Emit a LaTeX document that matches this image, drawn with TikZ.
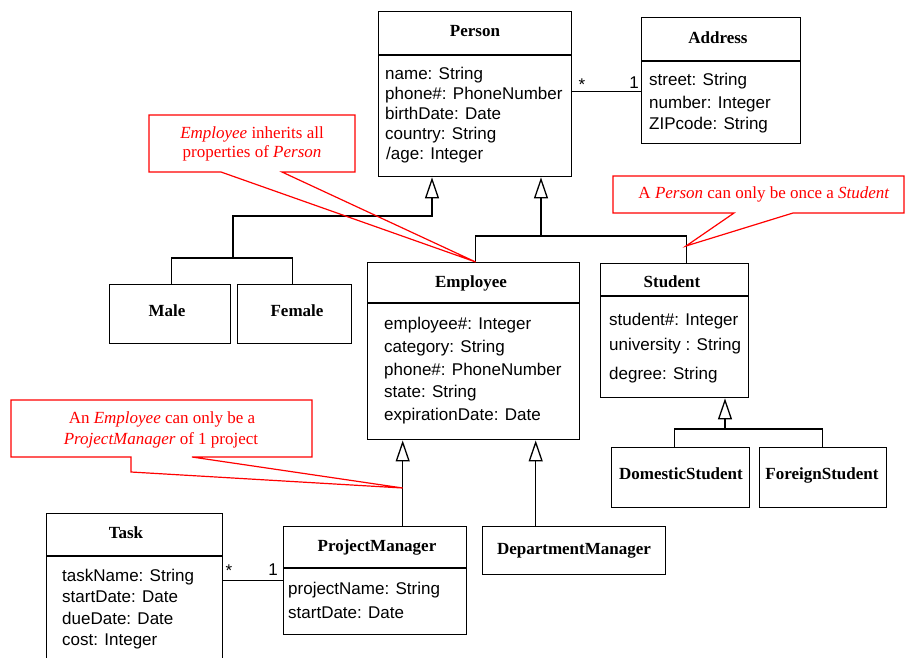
\documentclass[tikz,border=0pt]{standalone}
\usepackage{fontspec}
\setmainfont{Liberation Serif}
\setsansfont{Liberation Sans}
\usetikzlibrary{arrows.meta}
\tikzset{
  classbox/.style={draw, line width=1.4pt, inner sep=0pt, anchor=north west},
  boxline/.style={line width=1.4pt},
  title/.style={font=\fontsize{17}{20}\selectfont\bfseries, anchor=base, inner sep=0pt},
  attr/.style={font=\sffamily\fontsize{17}{20}\selectfont, anchor=base west, inner sep=0pt},
  mult/.style={font=\sffamily\fontsize{17}{20}\selectfont, anchor=base, inner sep=0pt},
  note/.style={font=\fontsize{17}{20}\selectfont, text=red, anchor=base, inner sep=0pt},
  conn/.style={line width=1.3pt},
  gen/.style={conn, -{Triangle[open, width=14pt, length=21pt]}},
  callout/.style={draw=red, line width=1.2pt, line join=miter},
}
\begin{document}
\begin{tikzpicture}[x=1pt, y=-1pt]
\path[use as bounding box, clip] (0,0) rectangle (905,657);
\fill[white] (0,0) rectangle (905,657);

% ---------- class boxes ----------
\node[classbox, minimum width=193pt, minimum height=165pt] (person) at (378,11) {};
\draw[boxline] (person.north west) ++(0,44) -- ++(193,0);
\node[title] (personT) at (475,36.5) {Person};
\node[attr] (pa1) at (385,79) {name: String};
\node[attr] (pa2) at (385,99.5) {phone\#: PhoneNumber};
\node[attr] (pa3) at (385,119.5) {birthDate: Date};
\node[attr] (pa4) at (385,139.5) {country: String};
\node[attr] (pa5) at (386,159.5) {/age: Integer};

\node[classbox, minimum width=159pt, minimum height=126pt] (address) at (641,17) {};
\draw[boxline] (address.north west) ++(0,44) -- ++(159,0);
\node[title] (addressT) at (718,43) {Address};
\node[attr] (aa1) at (649,85) {street: String};
\node[attr] (aa2) at (649,108) {number: Integer};
\node[attr] (aa3) at (649,129.5) {ZIPcode: String};

\node[classbox, minimum width=121pt, minimum height=59pt] (male) at (109,284) {};
\node[title] (maleT) at (167,316) {Male};
\node[classbox, minimum width=114pt, minimum height=59pt] (female) at (237,284) {};
\node[title] (femaleT) at (297,316) {Female};

\node[classbox, minimum width=212pt, minimum height=177pt] (employee) at (367,262) {};
\draw[boxline] (employee.north west) ++(0,41) -- ++(212,0);
\node[title] (employeeT) at (471,287.5) {Employee};
\node[attr] (ea1) at (384,329) {employee\#: Integer};
\node[attr] (ea2) at (384,352) {category: String};
\node[attr] (ea3) at (384,375) {phone\#: PhoneNumber};
\node[attr] (ea4) at (384,397) {state: String};
\node[attr] (ea5) at (384,420) {expirationDate: Date};

\node[classbox, minimum width=148pt, minimum height=134pt] (student) at (600,263) {};
\draw[boxline] (student.north west) ++(0,33) -- ++(148,0);
\node[title] (studentT) at (672,287) {Student};
\node[attr] (sa1) at (609,325) {student\#: Integer};
\node[attr] (sa2) at (609,350.5) {university : String};
\node[attr] (sa3) at (609,379) {degree: String};

\node[classbox, minimum width=138pt, minimum height=60pt] (dom) at (611,447) {};
\node[title] (domT) at (681,479) {DomesticStudent};
\node[classbox, minimum width=127pt, minimum height=60pt] (for) at (759,447) {};
\node[title] (forT) at (822,479) {ForeignStudent};

\node[classbox, minimum width=183pt, minimum height=48pt] (dm) at (482,526) {};
\node[title] (dmT) at (574,554) {DepartmentManager};

\node[classbox, minimum width=183pt, minimum height=108pt] (pm) at (283,526) {};
\draw[boxline] (pm.north west) ++(0,42) -- ++(183,0);
\node[title] (pmT) at (377,551) {ProjectManager};
\node[attr] (pma1) at (288,594) {projectName: String};
\node[attr] (pma2) at (288,618) {startDate: Date};

\node[classbox, minimum width=176pt, minimum height=200pt] (task) at (46,513) {};
\draw[boxline] (task.north west) ++(0,43) -- ++(176,0);
\node[title] (taskT) at (126,538.5) {Task};
\node[attr] (ta1) at (62,581) {taskName: String};
\node[attr] (ta2) at (62,602) {startDate: Date};
\node[attr] (ta3) at (62,624) {dueDate: Date};
\node[attr] (ta4) at (62,645.5) {cost: Integer};

% ---------- generalizations ----------
\coordinate (g1) at (432,216);
\coordinate (g1b) at (233,258);
\draw[conn] ([xshift=1.5pt]male.north) |- (g1b) -| ([xshift=-2pt]female.north);
\draw[gen] (g1b) |- (g1) -- (g1 |- person.south);

\coordinate (g2) at (541,236);
\draw[conn] ([xshift=2pt]employee.north) |- (g2) -| ([xshift=12pt]student.north);
\draw[gen] (g2) -- (g2 |- person.south);

\coordinate (g3) at (725,429);
\draw[conn] ([xshift=-6pt]dom.north) |- (g3) -| ([xshift=-0.5pt]for.north);
\draw[gen] (g3) -- (g3 |- student.south);

\coordinate (pmtop) at ([xshift=27.5pt]pm.north);
\draw[gen] (pmtop) -- (pmtop |- employee.south);
\coordinate (dmtop) at ([xshift=-38.5pt]dm.north);
\draw[gen] (dmtop) -- (dmtop |- employee.south);

% ---------- associations ----------
\coordinate (pa) at ([yshift=3pt]person.east);
\draw[conn] (pa) -- (pa -| address.west);
\node[mult] (m1) at (582,90) {*};
\node[mult] (m2) at (634,88) {1};

\draw[conn] (pm.west) -- (pm.west -| task.east);
\node[mult] (m3) at (229,576) {*};
\node[mult] (m4) at (273,575) {1};

% ---------- callouts ----------
\coordinate (c1tip) at ([xshift=2pt]employee.north);
\draw[callout] (221,172) -- (149,172) -- (149,115) -- (355,115) -- (355,172) -- (282,172) -- (c1tip) -- cycle;
\node[note] (n1a) at (252,138) {\textit{Employee} inherits all};
\node[note] (n1b) at (252,157) {properties of \textit{Person}};

\coordinate (c2tip) at (686,246);
\draw[callout] (734,213) -- (613,213) -- (613,176) -- (904,176) -- (904,213) -- (793,213) -- (c2tip) -- cycle;
\node[note] (n2) at (764,198) {A \textit{Person} can only be once a \textit{Student}};

\coordinate (c3tip) at (pmtop |- 0,488);
\draw[callout] (131,472) -- (131,457) -- (11,457) -- (11,400) -- (312,400) -- (312,457) -- (192,457) -- (c3tip) -- cycle;
\node[note] (n3a) at (162,423) {An \textit{Employee} can only be a};
\node[note] (n3b) at (161,444) {\textit{ProjectManager} of 1 project};
\end{tikzpicture}
\end{document}
